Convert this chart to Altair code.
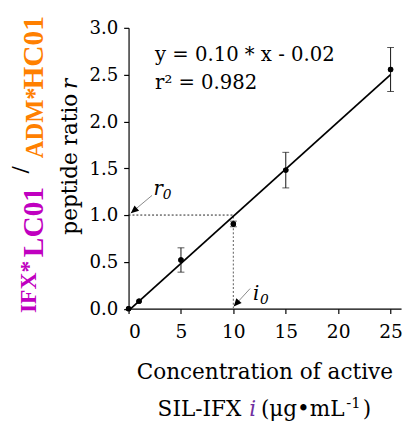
import altair as alt
import pandas as pd

# ---- data ----
conc = [0, 1, 5, 10, 15, 25]
ratio = [0.00, 0.08, 0.52, 0.905, 1.48, 2.555]
err_lo = [None, None, 0.39, 0.875, 1.29, 2.32]
err_hi = [None, None, 0.65, 0.935, 1.67, 2.79]

fit_x = [0, 25]
fit_y = [-0.02, 2.50]

hguide_x = [0, 10]
hguide_y = [1.0, 1.0]
vguide_x = [10, 10]
vguide_y = [0.0, 1.0]

arrow_from_x = [2.24, 11.6]
arrow_from_y = [1.21, 0.215]
arrow_tip_x = [0.21, 10.03]
arrow_tip_y = [1.02, 0.023]
arrow_angle = [230, 222]

x_ticks = [0, 2.5, 5, 7.5, 10, 12.5, 15, 17.5, 20, 22.5, 25]
y_ticks = [0, 0.25, 0.5, 0.75, 1.0, 1.25, 1.5, 1.75, 2.0, 2.25, 2.5, 2.75, 3.0]

W, H = 278, 286.5
SERIF = "DejaVu Serif"
BOLD = "Liberation Serif"
MAGENTA = "#c000c0"
ORANGE = "#ff8000"
PURPLE = "#7030a0"

xs = alt.Scale(domain=[0, 26], nice=False, zero=False)
ys = alt.Scale(domain=[0, 3], nice=False, zero=False)

pts = pd.DataFrame({"x": conc, "y": ratio, "lo": err_lo, "hi": err_hi})
err = pts.dropna()
fit = pd.DataFrame({"x": fit_x, "y": fit_y})
hg = pd.DataFrame({"x": hguide_x, "y": hguide_y})
vg = pd.DataFrame({"x": vguide_x, "y": vguide_y})
arr = pd.DataFrame({"x": arrow_from_x, "y": arrow_from_y,
                    "x2": arrow_tip_x, "y2": arrow_tip_y, "a": arrow_angle})

xaxis = alt.Axis(values=x_ticks, title=None,
                 labelExpr="datum.value % 5 == 0 ? format(datum.value, 'd') : ''",
                 labelPadding=9, labelFontSize=19)
yaxis = alt.Axis(values=y_ticks, title=None,
                 labelExpr="datum.value % 0.5 == 0 ? format(datum.value, '.1f') : ''",
                 labelPadding=6, labelFontSize=18.5)

X = lambda f="x": alt.X(f"{f}:Q", scale=xs, title=None)
Y = lambda f="y": alt.Y(f"{f}:Q", scale=ys, title=None)

points = alt.Chart(pts).mark_point(filled=True, color="black", size=30, opacity=1).encode(
    x=alt.X("x:Q", scale=xs, axis=xaxis), y=alt.Y("y:Q", scale=ys, axis=yaxis))

fitline = alt.Chart(fit).mark_line(color="black", strokeWidth=1.8).encode(x=X(), y=Y())

ebar = alt.Chart(err).mark_rule(color="#111", strokeWidth=1).encode(
    x=X(), y=Y("lo"), y2="hi:Q")
cap_lo = alt.Chart(err).mark_tick(color="#111", orient="horizontal", size=7, thickness=1).encode(
    x=X(), y=Y("lo"))
cap_hi = alt.Chart(err).mark_tick(color="#111", orient="horizontal", size=7, thickness=1).encode(
    x=X(), y=Y("hi"))

hline = alt.Chart(hg).mark_line(color="#222", strokeWidth=1, strokeDash=[2, 2]).encode(x=X(), y=Y())
vline = alt.Chart(vg).mark_line(color="#777", strokeWidth=1.2, strokeDash=[2, 2]).encode(x=X(), y=Y())

shafts = alt.Chart(arr).mark_rule(color="#888", strokeWidth=1).encode(
    x=X(), y=Y(), x2="x2:Q", y2="y2:Q")
heads = alt.Chart(arr).mark_point(shape="M0,0 L-0.45,1 L0.45,1 Z", filled=True,
                                  color="black", size=260, opacity=1).encode(
    x=X("x2"), y=Y("y2"), angle=alt.Angle("a:Q", scale=None))


def txt(s, px, py, size, color="black", font=SERIF, style="normal", weight="normal",
        align="left", angle=0, baseline="alphabetic"):
    return alt.Chart(pd.DataFrame({"t": [s]})).mark_text(
        font=font, fontSize=size, fontStyle=style, fontWeight=weight, color=color,
        align=align, baseline=baseline, angle=angle).encode(
        text="t:N", x=alt.value(px), y=alt.value(py))


texts = [
    # equation
    txt("y = 0.10 * x - 0.02", 27, 34, 20),
    txt("r² = 0.982", 27, 62.5, 20),
    # r0 / i0 labels
    txt("r", 25.5, 171, 20, style="italic"),
    txt("0", 35, 175, 14, style="italic"),
    txt("i", 127, 278, 20, style="italic"),
    txt("0", 134, 282, 14, style="italic"),
    # x title
    txt("Concentration of active", W / 2, 358, 22, align="center"),
    txt("SIL-IFX", 115, 396, 22, align="right"),
    txt("i", 123, 396, 22, color=PURPLE, style="italic"),
    txt("(μg•mL", 135, 396, 22),
    txt("-1", 222, 388, 15),
    txt(")", 239, 396, 22),
    # y title line 2
    txt("peptide ratio", -53, 211, 22, angle=270),
    txt("r", -53, 52, 22, style="italic", angle=270, align="right"),
    # y title line 1 (coloured)
    txt("IFX*", -94, 291, 24, color=MAGENTA, font=BOLD, weight="bold", angle=270),
    txt("LC01", -87, 234, 30, color=MAGENTA, font=BOLD, weight="bold", angle=270),
    txt("/", -102, 145, 25, color="black", font=BOLD, weight="bold", angle=270, align="center"),
    txt("ADM*", -87, 133, 25, color=ORANGE, font=BOLD, weight="bold", angle=270),
    txt("HC01", -87, 63, 30, color=ORANGE, font=BOLD, weight="bold", angle=270),
]

chart = alt.layer(points, hline, vline, fitline, ebar, cap_lo, cap_hi, shafts, heads, points,
                  *texts).properties(
    width=W, height=H,
    autosize=alt.AutoSizeParams(type="none"),
    padding={"left": 123, "top": 16, "right": 3, "bottom": 117},
).configure_view(stroke=None).configure_axis(
    grid=False, domainColor="black", tickColor="black", labelColor="black",
    domainWidth=1.2, tickWidth=1.2, tickSize=5,
    labelFont=SERIF, labelFontSize=18,
)

chart.save("out.html", embed_options={"renderer": "svg", "actions": False})
